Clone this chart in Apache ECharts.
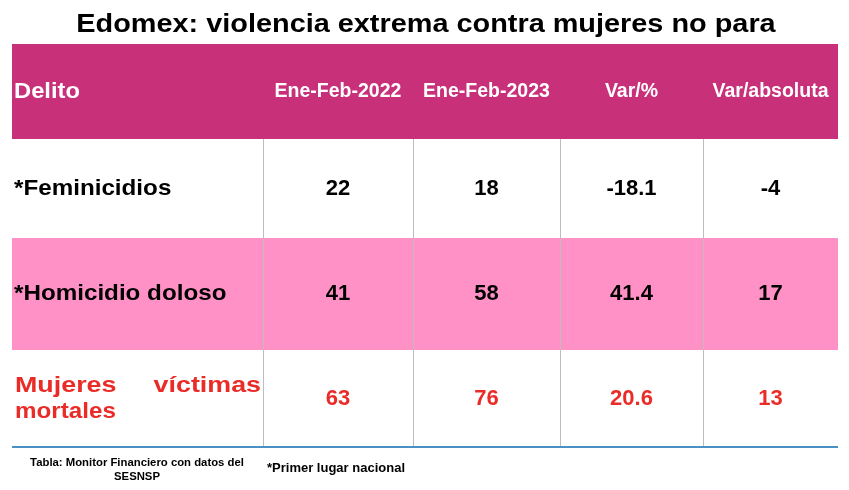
<!DOCTYPE html>
<html>
<head>
<meta charset="utf-8">
<script src="https://cdn.jsdelivr.net/npm/echarts@6/dist/echarts.min.js"></script>
<style>
  html, body { margin: 0; padding: 0; background: #fff; }
  #chart { width: 849px; height: 490px; }
</style>
</head>
<body>
<div id="chart"></div>
<script>
// datos de la tabla
var columnas = ["Delito", "Ene-Feb-2022", "Ene-Feb-2023", "Var/%", "Var/absoluta"];
var delitos = ["*Feminicidios", "*Homicidio doloso", "Mujeres víctimas mortales"];
var eneFeb2022 = [22, 41, 63];
var eneFeb2023 = [18, 58, 76];
var varPct = [-18.1, 41.4, 20.6];
var varAbs = [-4, 17, 13];

// layout (unidades del eje = px dentro del grid)
var colEdges = [0, 251, 401, 548, 691, 826];
var rowEdges = [0, 95, 194, 306, 403];
var rowFill = ["#C9307A", "#ffffff", "#FF91C6", "#ffffff"];
var FONT = '"Liberation Sans", Arial, sans-serif';

var myChart = echarts.init(document.getElementById("chart"));

function txt(x, y, text, font, fill, align, sx) {
  return {
    type: "text",
    x: x,
    y: y,
    scaleX: sx || 1,
    style: {
      text: text,
      font: font,
      fill: fill,
      align: align,
      textAlign: align,
      verticalAlign: "middle",
      textVerticalAlign: "middle"
    }
  };
}

function renderFila(params, api) {
  var r = api.value(0);
  var p0 = api.coord([colEdges[0], rowEdges[r]]);
  var p1 = api.coord([colEdges[colEdges.length - 1], rowEdges[r + 1]]);
  var cy = (p0[1] + p1[1]) / 2;
  var children = [];

  children.push({
    type: "rect",
    shape: { x: p0[0], y: p0[1], width: p1[0] - p0[0], height: p1[1] - p0[1] },
    style: { fill: rowFill[r] }
  });

  var xs = colEdges.map(function (e) { return api.coord([e, 0])[0]; });
  var centro = function (c) { return (xs[c] + xs[c + 1]) / 2; };

  if (r === 0) {
    var fh = "bold 19.5px " + FONT;
    children.push(txt(xs[0] + 2, cy, columnas[0], "bold 22px " + FONT, "#fff", "left", 1.08));
    for (var c = 1; c < columnas.length; c++) {
      children.push(txt(centro(c), cy, columnas[c], fh, "#fff", "center"));
    }
  } else {
    var i = r - 1;
    var esTotal = i === delitos.length - 1;
    var color = esTotal ? "#EA2C28" : "#000";
    var fb = "bold 22px " + FONT;

    // lineas verticales
    for (var k = 1; k < xs.length - 1; k++) {
      children.push({
        type: "line",
        shape: { x1: Math.round(xs[k]) + 0.5, y1: p0[1], x2: Math.round(xs[k]) + 0.5, y2: p1[1] },
        style: { stroke: "#BDBDBD", lineWidth: 1 }
      });
    }

    if (esTotal) {
      var palabras = delitos[i].split(" ");
      children.push(txt(xs[0] + 3, cy - 13, palabras[0], fb, color, "left", 1.22));
      children.push(txt(xs[1] - 2, cy - 13, palabras[1], fb, color, "right", 1.22));
      children.push(txt(xs[0] + 3, cy + 13, palabras[2], fb, color, "left", 1.1));
      children.push({
        type: "line",
        shape: { x1: p0[0], y1: p1[1], x2: p1[0], y2: p1[1] },
        style: { stroke: "#4A90C2", lineWidth: 2 }
      });
    } else {
      children.push(txt(xs[0] + 2, cy, delitos[i], fb, color, "left", 1.1));
    }

    var vals = [eneFeb2022[i], eneFeb2023[i], varPct[i].toFixed(1), varAbs[i]];
    for (var c2 = 0; c2 < vals.length; c2++) {
      children.push(txt(centro(c2 + 1), cy, String(vals[c2]), fb, color, "center"));
    }
  }

  return { type: "group", children: children };
}

var option = {
  animation: false,
  backgroundColor: "#fff",
  grid: { left: 12, top: 44, width: 826, height: 403 },
  xAxis: { type: "value", min: 0, max: 826, show: false },
  yAxis: { type: "value", min: 0, max: 403, inverse: true, show: false },
  series: [
    {
      type: "custom",
      renderItem: renderFila,
      encode: { x: 0, y: 0 },
      data: rowEdges.slice(1).map(function (_, r) { return [r]; })
    }
  ],
  graphic: [
    {
      type: "text",
      x: 426,
      y: 25,
      scaleX: 1.11,
      style: {
        text: "Edomex: violencia extrema contra mujeres no para",
        font: "bold 26px " + FONT,
        fill: "#000",
        align: "center",
        verticalAlign: "middle"
      }
    },
    {
      type: "text",
      x: 137,
      y: 470,
      scaleX: 1.03,
      style: {
        text: "Tabla: Monitor Financiero con datos del\nSESNSP",
        font: "bold 11px " + FONT,
        fill: "#000",
        align: "center",
        verticalAlign: "middle",
        lineHeight: 14
      }
    },
    {
      type: "text",
      x: 267,
      y: 468,
      style: {
        text: "*Primer lugar nacional",
        font: "bold 13px " + FONT,
        fill: "#000",
        align: "left",
        verticalAlign: "middle"
      }
    }
  ]
};

option && myChart.setOption(option);
</script>
</body>
</html>
